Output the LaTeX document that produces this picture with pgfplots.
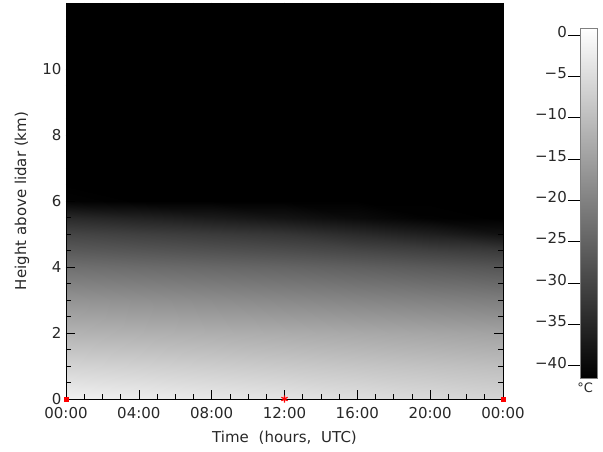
\documentclass[border=0pt]{standalone}
\usepackage{fontspec}
\setmainfont{DejaVu Sans}
\usepackage{pgfplots}
\pgfplotsset{compat=1.18}
\usepackage{pgfplotstable}

% temperature field (deg C): t (h UTC), z (km), T
\pgfplotstableread{
t z T
0 0 -1.5
4 0 -2.2
8 0 -3.0
12 0 -3.6
16 0 -4.5
20 0 -5.4
24 0 -6.2
0 1 -6.5
4 1 -7.0
8 1 -7.6
12 1 -8.2
16 1 -8.8
20 1 -9.4
24 1 -10.0
0 2 -11.8
4 2 -12.2
8 2 -12.6
12 2 -13.0
16 2 -13.5
20 2 -14.0
24 2 -14.5
0 3 -17.0
4 3 -17.6
8 3 -18.2
12 3 -18.8
16 3 -19.4
20 3 -20.0
24 3 -20.6
0 4 -23.0
4 4 -23.6
8 4 -24.2
12 4 -24.8
16 4 -25.6
20 4 -26.5
24 4 -27.4
0 4.5 -26.5
4 4.5 -27.2
8 4.5 -27.9
12 4.5 -28.6
16 4.5 -29.6
20 4.5 -30.7
24 4.5 -31.8
0 5 -30.0
4 5 -30.9
8 5 -31.7
12 5 -32.6
16 5 -34.4
20 5 -36.3
24 5 -38.5
0 5.5 -34.5
4 5.5 -35.7
8 5.5 -36.9
12 5.5 -38.1
16 5.5 -39.7
20 5.5 -41.2
24 5.5 -43.0
0 6 -41.0
4 6 -42.0
8 6 -43.0
12 6 -44.0
16 6 -45.0
20 6 -45.0
24 6 -45.0
0 6.5 -45.0
4 6.5 -45.0
8 6.5 -45.0
12 6.5 -45.0
16 6.5 -45.0
20 6.5 -45.0
24 6.5 -45.0
0 12 -45.0
4 12 -45.0
8 12 -45.0
12 12 -45.0
16 12 -45.0
20 12 -45.0
24 12 -45.0
}\tempdata

\pgfplotstableread{
x y T
0 -41.5 -41.5
1 -41.5 -41.5
0 0.8 0.8
1 0.8 0.8
}\cbardata

\definecolor{txt}{RGB}{40,40,40}

\begin{document}
\begin{tikzpicture}
\path[use as bounding box] (-66bp,-53bp) rectangle (537bp,399bp);
\begin{axis}[
  at={(0bp,0bp)}, anchor=south west,
  width=437bp, height=396bp, scale only axis,
  xmin=0, xmax=24, ymin=0, ymax=12,
  xtick={0,4,...,24},
  xticklabels={00:00,04:00,08:00,12:00,16:00,20:00,00:00},
  minor xtick={1,2,...,23},
  ytick={0,2,...,10},
  minor ytick={0.5,1,...,11.5},
  tick align=inside,
  major tick length=9bp, minor tick length=5bp,
  xtick pos=both, ytick pos=both,
  tick style={black, line width=0.6pt},
  colormap/blackwhite,
  point meta min=-41.5, point meta max=0.8,
  axis on top, clip=false,
  /pgf/number format/assume math mode=true,
  tick label style={font=\fontsize{15bp}{18bp}\selectfont, text=txt},
  label style={font=\fontsize{15bp}{18bp}\selectfont, text=txt},
  xticklabel style={yshift=-5bp},
  yticklabel style={xshift=-1bp},
  xlabel={Time\hspace{5bp} (hours,\hspace{5bp} UTC)},
  ylabel={Height above lidar (km)},
  xlabel style={at={(axis description cs:0.5,0)}, anchor=center, yshift=-39bp},
  ylabel style={at={(axis description cs:-0.1007,0.5)}, anchor=center},
  axis line style={black},
]
\addplot[surf, shader=interp, mesh/cols=7, point meta=explicit]
  table[x=t, y=z, meta=T] {\tempdata};
\addplot[only marks, mark=square*, red, mark size=2bp]
  coordinates {(0,0) (24,0)};
\addplot[only marks, mark=asterisk, red, mark size=3.5bp, very thick]
  coordinates {(12,0)};
\end{axis}
\begin{axis}[
  at={(514bp,21bp)}, anchor=south west,
  width=17bp, height=350bp, scale only axis,
  xmin=0, xmax=1, ymin=-41.5, ymax=0.8,
  xtick=\empty,
  ytick={-40,-35,...,0},
  yticklabels={−40,−35,−30,−25,−20,−15,−10,−5,0},
  ytick pos=left, tick align=outside,
  major tick length=12bp,
  tick style={black},
  colormap/blackwhite,
  point meta min=-41.5, point meta max=0.8,
  axis on top,
  tick label style={font=\fontsize{15bp}{18bp}\selectfont, text=txt},
  yticklabel style={anchor=east, yshift=3bp, inner sep=1bp},
  axis line style={gray},
  clip=false,
]
\addplot[surf, shader=interp, mesh/cols=2, point meta=explicit]
  table[x=x, y=y, meta=T] {\cbardata};
\node[anchor=north, font=\fontsize{13bp}{15bp}\selectfont, text=txt, inner sep=0pt] at (axis description cs:0.3,-0.012) {°C};
\end{axis}
\end{tikzpicture}
\end{document}
